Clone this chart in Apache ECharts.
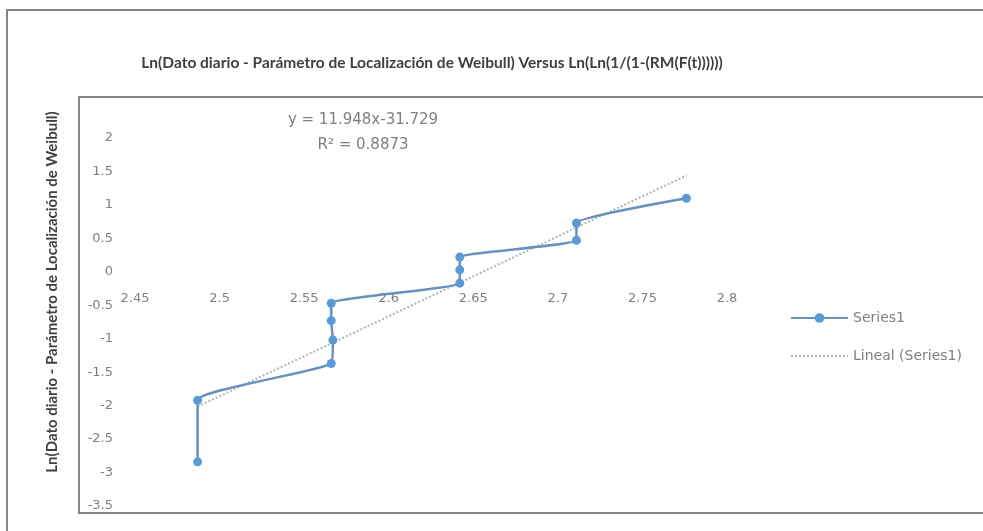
<!DOCTYPE html>
<html>
<head>
<meta charset="utf-8">
<script src="https://cdn.jsdelivr.net/npm/echarts@6/dist/echarts.min.js"></script>
<style>
  html, body { margin: 0; padding: 0; background: #ffffff; }
  #chart { width: 983px; height: 531px; }
</style>
</head>
<body>
<div id="chart"></div>
<script>
// Texts
const chartTitle = 'Ln(Dato diario - Parámetro de Localización de Weibull) Versus Ln(Ln(1/(1-(RM(F(t))))))';
const yAxisTitle = 'Ln(Dato diario - Parámetro de Localización de Weibull)';
const seriesName = 'Series1';
const trendName = 'Lineal (Series1)';

// Observed points (x, y)
const xValues = [2.487, 2.487, 2.566, 2.567, 2.566, 2.566, 2.642, 2.642, 2.642, 2.711, 2.711, 2.776];
const yValues = [-2.84, -1.92, -1.37, -1.02, -0.73, -0.47, -0.17, 0.03, 0.22, 0.47, 0.73, 1.10];

// Linear trendline as reported on the chart
const trendSlope = 11.948;
const trendIntercept = -31.729;
const trendR2 = 0.8873;

// Axis ranges / ticks
const xMin = 2.45, xMax = 2.8, xStep = 0.05;
const yMin = -3.5, yMax = 2, yStep = 0.5;

const titleFont = 'Lato, "Open Sans", sans-serif';
const numFont = '"DejaVu Sans", sans-serif';
const labelColor = '#7f7f7f';

const gridTop = 138, gridBottom = 25, chartH = 531;
const plotH = chartH - gridTop - gridBottom;
// x axis labels sit at y = 0, as in a crossing horizontal axis
const xAxisOffset = -((0 - yMin) / (yMax - yMin)) * plotH;

const seriesData = xValues.map((x, i) => [x, yValues[i]]);
const tMin = Math.min(...xValues), tMax = Math.max(...xValues);
const trendData = [tMin, tMax].map(x => [x, trendSlope * x + trendIntercept]);

const fmt = v => String(+v.toFixed(2));

const chart = echarts.init(document.getElementById('chart'), null, { renderer: 'canvas' });
chart.setOption({
  backgroundColor: '#ffffff',
  animation: false,
  grid: { left: 135, right: 256, top: gridTop, bottom: gridBottom, containLabel: false },
  xAxis: {
    type: 'value', min: xMin, max: xMax, interval: xStep,
    offset: xAxisOffset,
    axisLine: { show: false, onZero: false },
    axisTick: { show: false },
    splitLine: { show: false },
    axisLabel: { color: labelColor, fontFamily: numFont, fontSize: 13, margin: 20, formatter: fmt }
  },
  yAxis: {
    type: 'value', min: yMin, max: yMax, interval: yStep,
    axisLine: { show: false },
    axisTick: { show: false },
    splitLine: { show: false },
    axisLabel: { color: labelColor, fontFamily: numFont, fontSize: 13, margin: 22, formatter: fmt }
  },
  legend: {
    orient: 'vertical', left: 785, top: 306,
    itemWidth: 57, itemHeight: 12, itemGap: 24,
    textStyle: { color: labelColor, fontFamily: numFont, fontSize: 14 },
    data: [
      { name: seriesName },
      { name: trendName, itemStyle: { opacity: 0 } }
    ]
  },
  series: [
    {
      name: seriesName, type: 'line', data: seriesData,
      smooth: 0.15,
      symbol: 'circle', symbolSize: 9, showSymbol: true,
      lineStyle: { color: '#6a91bd', width: 2.5 },
      itemStyle: { color: '#5b9bd5' },
      z: 3
    },
    {
      name: trendName, type: 'line', data: trendData,
      symbol: 'none',
      lineStyle: { color: '#a9b9b1', width: 2, type: 'dotted' },
      itemStyle: { color: '#a9b9b1' },
      z: 2
    }
  ],
  graphic: [
    { type: 'rect', shape: { x: 7, y: 10, width: 1000, height: 560 },
      style: { fill: null, stroke: '#858585', lineWidth: 2 }, silent: true },
    { type: 'rect', shape: { x: 79, y: 97, width: 930, height: 416 },
      style: { fill: null, stroke: '#858585', lineWidth: 2 }, silent: true },
    { type: 'text', x: 432, y: 63,
      style: { text: chartTitle, fill: '#404040', font: 'bold 15.5px ' + titleFont, textAlign: 'center', textVerticalAlign: 'middle' } },
    { type: 'text', x: 52, y: 292, rotation: Math.PI / 2,
      style: { text: yAxisTitle, fill: '#404040', font: 'bold 15px ' + titleFont, textAlign: 'center', textVerticalAlign: 'middle' } },
    { type: 'text', x: 363, y: 120,
      style: { text: 'y = ' + trendSlope.toFixed(3) + 'x' + trendIntercept.toFixed(3), fill: labelColor, font: '15px ' + numFont, textAlign: 'center', textVerticalAlign: 'middle' } },
    { type: 'text', x: 363, y: 145,
      style: { text: 'R² = ' + trendR2.toFixed(4), fill: labelColor, font: '15px ' + numFont, textAlign: 'center', textVerticalAlign: 'middle' } }
  ]
});
</script>
</body>
</html>
